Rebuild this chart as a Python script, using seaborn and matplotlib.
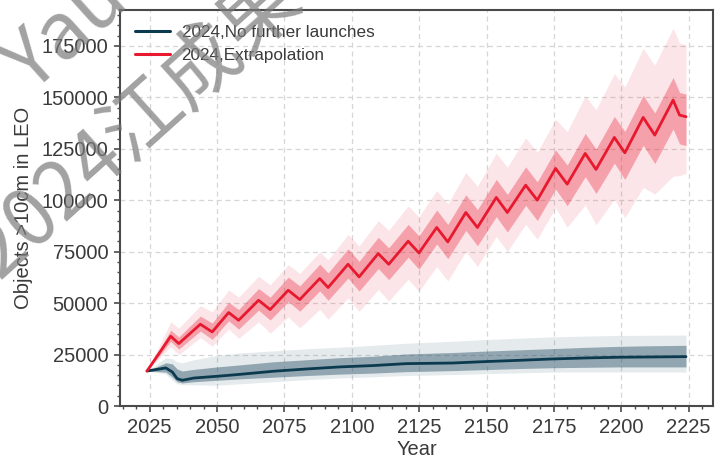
import numpy as np
import pandas as pd
import matplotlib
matplotlib.use("Agg")
import matplotlib.pyplot as plt
import seaborn as sns

# ---------------- data ----------------
# Extrapolation scenario (red): median and ensemble envelopes
years_ext = [2024, 2032.8, 2035.8, 2043.8, 2048.2, 2054.3, 2058.0, 2065.4, 2069.7,
             2076.4, 2080.7, 2088.1, 2091.2, 2098.6, 2102.7, 2109.8, 2113.7, 2120.9,
             2124.9, 2131.5, 2135.6, 2142.3, 2146.6, 2153.6, 2157.7, 2164.5, 2168.8,
             2175.6, 2179.9, 2186.6, 2190.6, 2197.4, 2201.3, 2208.1, 2212.4, 2219.2,
             2221.6, 2224]
ext_median = [17000, 33900, 30350, 39740, 36000, 45430, 41680, 51400, 46880,
              56260, 51760, 61960, 57580, 68900, 62750, 74100, 68900, 80100,
              74400, 86780, 79780, 94060, 86780, 101370, 94060, 107350, 100050,
              115470, 107840, 122770, 115000, 130550, 123060, 140280, 131670, 148700,
              141400, 140600]
ext_core_hi = [17000, 36900, 33550, 43740, 40300, 50430, 46880, 57100, 52880,
               62660, 58360, 68960, 64680, 76400, 70350, 82000, 76900, 88300,
               82700, 95280, 88280, 102660, 95480, 110170, 102860, 116250, 108950,
               124470, 117140, 132470, 124900, 140750, 133460, 150980, 142470, 159700,
               152400, 151600]
ext_core_lo = [17000, 31400, 27650, 36440, 32400, 41430, 37380, 46600, 41780,
               50760, 46060, 55960, 51380, 62200, 55850, 66800, 61400, 72300,
               66500, 78780, 71580, 85360, 77880, 92070, 84560, 97550, 90150,
               105470, 97340, 111470, 103300, 118050, 110160, 126780, 117870, 134700,
               127400, 126600]
ext_outer_hi = [17000, 40900, 37850, 48740, 45800, 56430, 52880, 63100, 58880,
                68660, 64460, 74960, 71080, 83400, 77750, 90100, 85400, 97300,
                91900, 104780, 98280, 113560, 106780, 122870, 116060, 130350, 123350,
                139470, 133340, 150770, 144000, 161550, 155060, 173780, 165670, 183700,
                176400, 175600]
ext_outer_lo = [17000, 28900, 24850, 33240, 29000, 37430, 32880, 40900, 35380,
                43260, 37960, 46960, 42180, 52600, 45950, 56600, 51000, 61600,
                55700, 67780, 60780, 75060, 67780, 82370, 75060, 88350, 81050,
                96470, 86840, 97770, 88000, 100550, 91560, 106280, 103000, 111700,
                112000, 113000]

# No further launches scenario (dark blue)
years_nfl = [2024, 2031, 2033.4, 2035.2, 2037.1, 2041.4, 2050, 2058.6, 2070.9, 2083.2,
             2095.5, 2107.8, 2120.2, 2137.4, 2149.7, 2162, 2174.3, 2186.6, 2198.9,
             2211.2, 2224]
nfl_median = [17000, 18500, 16540, 13300, 12500, 13600, 14450, 15400, 16900, 18000,
              19000, 19650, 20600, 20900, 21600, 22200, 22860, 23350, 23700,
              23840, 24000]
nfl_core_hi = [17000, 21000, 20500, 18000, 17000, 17800, 19000, 20000, 21500, 22500,
               23500, 24200, 25300, 26000, 26700, 27300, 27900, 28500, 29000,
               29300, 29500]
nfl_core_lo = [17000, 16500, 14000, 11800, 11200, 11800, 12500, 13200, 14000, 14800,
               15500, 16000, 16700, 17200, 17700, 18200, 18600, 18800, 19000,
               19000, 19000]
nfl_outer_hi = [17000, 23500, 23000, 21500, 21000, 22500, 24600, 25800, 26800, 27800,
                28600, 29500, 30500, 31500, 32300, 33000, 33600, 34000, 34300,
                34400, 34500]
nfl_outer_lo = [17000, 15500, 12500, 10800, 10400, 10300, 10100, 10800, 11800, 12800,
                13600, 14200, 14800, 15300, 15700, 16100, 16500, 16500, 16500,
                16500, 16500]

labels = ["2024,No further launches", "2024,Extrapolation"]
x_ticks = [2025, 2050, 2075, 2100, 2125, 2150, 2175, 2200, 2225]
y_ticks = [0, 25000, 50000, 75000, 100000, 125000, 150000, 175000]

# ---------------- styling ----------------
sns.set_style("ticks")
plt.rcParams["font.family"] = ["Liberation Sans", "DejaVu Sans"]
TXT = "#3a3a3a"
SPINE = "#4a4a4a"
BLUE = "#0b3a4f"
RED = "#e8192f"

fig = plt.figure(figsize=(7.17, 4.62), dpi=100)
ax = fig.add_axes([0.1674, 0.1212, 0.8270, 0.8572])

# ensemble envelopes
ax.fill_between(years_nfl, nfl_outer_lo, nfl_outer_hi, color="#4d7184", alpha=0.14, lw=0)
ax.fill_between(years_nfl, nfl_core_lo, nfl_core_hi, color="#1f4a5e", alpha=0.42, lw=0)
ax.fill_between(years_ext, ext_outer_lo, ext_outer_hi, color=RED, alpha=0.11, lw=0)
ax.fill_between(years_ext, ext_core_lo, ext_core_hi, color=RED, alpha=0.33, lw=0)

df = pd.concat([
    pd.DataFrame({"Year": years_nfl, "Objects": nfl_median, "Scenario": labels[0]}),
    pd.DataFrame({"Year": years_ext, "Objects": ext_median, "Scenario": labels[1]}),
])
sns.lineplot(data=df, x="Year", y="Objects", hue="Scenario",
             palette={labels[0]: BLUE, labels[1]: RED}, lw=2.0,
             estimator=None, sort=True, ax=ax)
for ln in ax.get_lines():
    ln.set_solid_joinstyle("round")

ax.set_xlim(2014, 2234)
ax.set_ylim(0, 192500)
ax.set_xticks(x_ticks)
ax.set_yticks(y_ticks)
ax.xaxis.set_minor_locator(matplotlib.ticker.MultipleLocator(5))
ax.yaxis.set_minor_locator(matplotlib.ticker.MultipleLocator(5000))
ax.grid(True, which="major", ls=(0, (4, 3)), color="#d6d6d6", lw=0.9)
ax.set_axisbelow(True)

for s in ax.spines.values():
    s.set_visible(True)
    s.set_color(SPINE)
    s.set_linewidth(1.5)
ax.tick_params(which="major", length=4.5, width=1.2, color=SPINE,
               labelsize=14.5, labelcolor=TXT, pad=4)
ax.tick_params(which="minor", length=2.5, width=1.0, color=SPINE)

ax.set_xlabel("Year", fontsize=14.5, color=TXT, labelpad=2)
ax.set_ylabel("Objects >10cm in LEO", fontsize=14.5, color=TXT, labelpad=6)

leg = ax.legend(loc="upper left", frameon=False, fontsize=12.3,
                handlelength=2.0, handletextpad=0.7, labelspacing=0.45,
                borderaxespad=0.5)
for t in leg.get_texts():
    t.set_color(TXT)
for h in leg.get_lines():
    h.set_linewidth(2.2)

# watermark
wm_kw = dict(color="#7a7a7a", alpha=0.7, rotation=42, ha="center", va="center",
             rotation_mode="anchor", family=["Noto Sans CJK SC", "DejaVu Sans"],
             fontsize=57, transform=None, zorder=10)
fig.text(66, 462 - 32, "Yau", **wm_kw)
fig.text(138, 462 - 125, "2024江成果", **wm_kw)

fig.savefig("out.png", dpi=100)
